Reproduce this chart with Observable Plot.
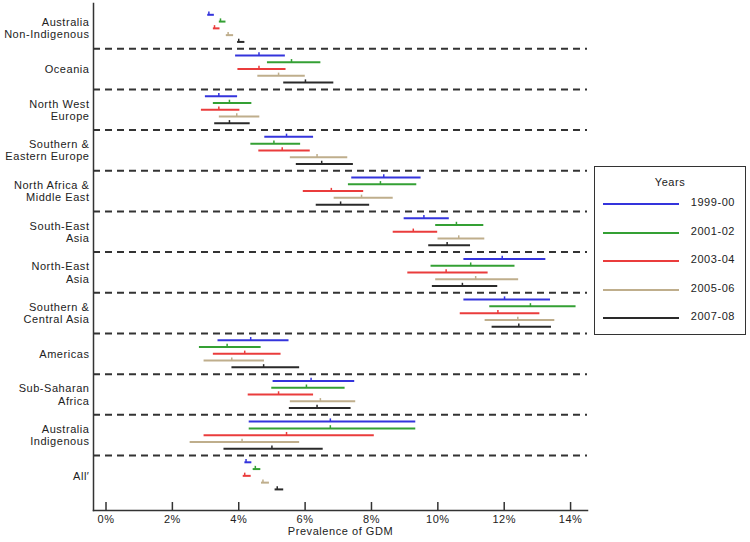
<!DOCTYPE html>
<html>
<head>
<meta charset="utf-8">
<script src="https://cdn.jsdelivr.net/npm/d3@7"></script>
<script src="https://cdn.jsdelivr.net/npm/@observablehq/plot@0.6"></script>
<style>
  html, body { margin: 0; padding: 0; background: #fff; }
  #wrap { position: relative; width: 750px; height: 542px; font-family: "Liberation Sans", Arial, sans-serif; }
  #wrap svg text { letter-spacing: 0.55px; }
  #legend { position: absolute; left: 594px; top: 166px; width: 150px; height: 167px; border: 1.5px solid #333; background: #fff; font-size: 11px; letter-spacing: 0.55px; color: #222; }
  #legend .title { position: absolute; left: 0; width: 100%; top: 9px; text-align: center; }
  #legend .swatch { position: absolute; left: 8px; width: 76px; height: 0; border-top: 2px solid; }
  #legend .lab { position: absolute; right: 10px; }
</style>
</head>
<body>
<div id="wrap"></div>
<script>
// ---- data (prevalence of GDM, %) ----
const groups = [
  "Australia\nNon-Indigenous", "Oceania", "North West\nEurope", "Southern &\nEastern Europe",
  "North Africa &\nMiddle East", "South-East\nAsia", "North-East\nAsia", "Southern &\nCentral Asia",
  "Americas", "Sub-Saharan\nAfrica", "Australia\nIndigenous", "All\u2032"
];
const years = ["1999-00", "2001-02", "2003-04", "2005-06", "2007-08"];
const yearColors = ["#3434dc", "#34a034", "#ea3c3c", "#bfae8c", "#2a2a2a"];

const estimate = [
  [3.10, 3.45, 3.27, 3.68, 4.00],
  [4.61, 5.59, 4.61, 5.20, 6.01],
  [3.40, 3.72, 3.40, 3.94, 3.72],
  [5.44, 5.06, 5.31, 6.36, 6.50],
  [8.37, 8.27, 6.79, 7.70, 7.07],
  [9.58, 10.56, 9.26, 10.63, 10.28],
  [11.94, 10.99, 10.25, 11.14, 10.74],
  [12.01, 12.79, 11.81, 12.41, 12.44],
  [4.36, 3.65, 4.18, 3.79, 4.75],
  [6.18, 6.04, 5.20, 6.46, 6.36],
  [6.76, 6.76, 5.44, 4.10, 5.00],
  [4.22, 4.50, 4.18, 4.73, 5.16]
];
const lower = [
  [3.05, 3.40, 3.22, 3.61, 3.95],
  [3.89, 4.85, 3.96, 4.56, 5.34],
  [2.98, 3.22, 2.86, 3.40, 3.26],
  [4.77, 4.35, 4.59, 5.54, 5.72],
  [7.39, 7.29, 5.93, 6.86, 6.32],
  [8.97, 9.92, 8.64, 9.99, 9.71],
  [10.77, 9.78, 9.08, 9.92, 9.82],
  [10.77, 11.55, 10.66, 11.41, 11.62],
  [3.36, 2.80, 3.22, 2.94, 3.78],
  [5.02, 4.98, 4.27, 5.54, 5.51],
  [4.30, 4.30, 2.94, 2.52, 3.54],
  [4.17, 4.42, 4.12, 4.67, 5.08]
];
const upper = [
  [3.25, 3.60, 3.42, 3.83, 4.17],
  [5.39, 6.46, 5.41, 5.99, 6.85],
  [3.95, 4.38, 4.02, 4.62, 4.33],
  [6.24, 5.85, 6.14, 7.27, 7.44],
  [9.48, 9.35, 7.75, 8.64, 7.93],
  [10.33, 11.37, 9.98, 11.40, 10.97],
  [13.24, 12.31, 11.50, 12.42, 11.79],
  [13.38, 14.15, 13.06, 13.51, 13.41],
  [5.50, 4.66, 5.26, 4.76, 5.82],
  [7.48, 7.19, 6.24, 7.51, 7.37],
  [9.32, 9.32, 8.07, 5.82, 6.53],
  [4.38, 4.65, 4.36, 4.91, 5.34]
];
const xTicks = [0, 2, 4, 6, 8, 10, 12, 14];
const xLabel = "Prevalence of GDM";

// ---- derived table: each group has 5 rows + 1 separator slot ----
const rows = [];
groups.forEach((g, gi) => years.forEach((yr, yi) => rows.push({
  group: g, year: yr, pos: gi * 6 + yi,
  est: estimate[gi][yi], lo: lower[gi][yi], hi: upper[gi][yi]
})));
const seps = groups.slice(0, -1).map((g, gi) => ({pos: gi * 6 + 5}));
const labels = groups.map((g, gi) => ({text: g, pos: gi * 6 + 2}));

const plot = Plot.plot({
  width: 750, height: 542,
  marginLeft: 93, marginRight: 163, marginTop: 3, marginBottom: 32,
  style: {fontFamily: "'Liberation Sans', Arial, sans-serif", fontSize: "11px", color: "#222", background: "#fff"},
  x: {domain: [-0.377, 14.51], ticks: xTicks, tickFormat: d => d + "%", tickSize: 0, tickPadding: 5, label: null},
  y: {domain: [-1.667, 73.11], reverse: true, axis: null},
  color: {domain: years, range: yearColors},
  marks: [
    Plot.ruleY(seps, {y: "pos", stroke: "#333", strokeWidth: 2, strokeDasharray: "7,5"}),
    Plot.link(rows, {x1: "lo", x2: "hi", y1: "pos", y2: "pos", stroke: "year", strokeWidth: 2}),
    Plot.ruleX(rows, {x: "est", y1: d => d.pos - 0.4, y2: d => d.pos + 0.1, stroke: "year", strokeWidth: 1.5}),
    Plot.ruleX(xTicks, {x: d => d, insetTop: 499, stroke: "#333", strokeWidth: 1.5}),
    Plot.frame({anchor: "left", stroke: "#333", strokeWidth: 1.5}),
    Plot.frame({anchor: "bottom", stroke: "#333", strokeWidth: 1.5}),
    Plot.text(labels, {y: "pos", text: "text", frameAnchor: "left", dx: -4, textAnchor: "end",
      lineHeight: 1.12, fontSize: 11, fill: "#222", ariaLabel: "group-labels"}),
    Plot.text([xLabel], {text: d => d, frameAnchor: "bottom", dy: 24, fontSize: 11, fill: "#222"})
  ]
});

const wrap = document.getElementById("wrap");
wrap.appendChild(plot);

// centre the lines of each multi-line group label within its right-aligned block
d3.select(plot).selectAll('g[aria-label="group-labels"] text').each(function () {
  const tspans = Array.from(this.querySelectorAll("tspan"));
  if (tspans.length < 2) return;
  const w = d3.max(tspans, t => t.getComputedTextLength());
  this.setAttribute("text-anchor", "middle");
  tspans.forEach(t => t.setAttribute("x", -w / 2));
});

// legend (HTML, placed to the right of the plot)
const legend = document.createElement("div");
legend.id = "legend";
const title = document.createElement("div");
title.className = "title";
title.textContent = "Years";
legend.appendChild(title);
years.forEach((yr, i) => {
  const top = 36 + i * 28.6;
  const sw = document.createElement("div");
  sw.className = "swatch";
  sw.style.top = top + "px";
  sw.style.borderTopColor = yearColors[i];
  legend.appendChild(sw);
  const lab = document.createElement("div");
  lab.className = "lab";
  lab.style.top = (top - 7) + "px";
  lab.textContent = yr;
  legend.appendChild(lab);
});
wrap.appendChild(legend);
</script>
</body>
</html>
